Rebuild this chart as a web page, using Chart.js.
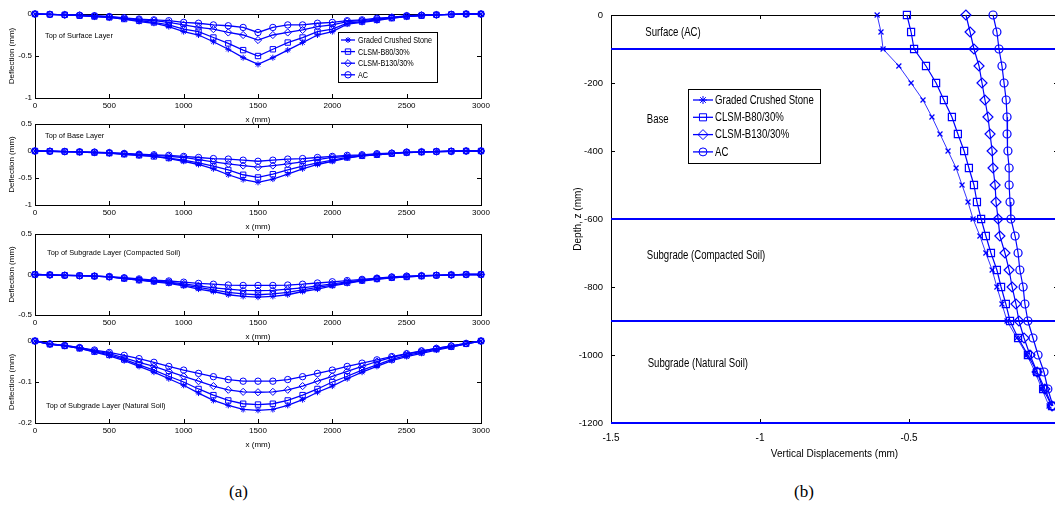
<!DOCTYPE html>
<html>
<head>
<meta charset="utf-8">
<script src="https://cdn.jsdelivr.net/npm/chart.js@4.4.1/dist/chart.umd.min.js"></script>
<style>
  html, body { margin: 0; padding: 0; background: #fff; overflow: hidden; width: 1055px; height: 509px; }
  canvas { position: absolute; }
  .cap { position: absolute; font-family: "Liberation Serif", "Times New Roman", serif; font-size: 17px; color: #000; }
</style>
</head>
<body>
<canvas id="surface" width="495" height="128" style="left:0;top:0"></canvas>
<canvas id="base" width="495" height="125" style="left:0;top:110px"></canvas>
<canvas id="compacted" width="495" height="125" style="left:0;top:220px"></canvas>
<canvas id="natural" width="495" height="126" style="left:0;top:327px"></canvas>
<canvas id="profile" width="520" height="470" style="left:555px;top:0"></canvas>
<div class="cap" style="left:229px;top:482px">(a)</div>
<div class="cap" style="left:794px;top:482px">(b)</div>
<script>
// ---- data ----
const seriesNames = ['Graded Crushed Stone', 'CLSM-B80/30%', 'CLSM-B130/30%', 'AC'];

// (a) deflection along x, every 100 mm
const xPositions = [0, 100, 200, 300, 400, 500, 600, 700, 800, 900, 1000, 1100, 1200, 1300, 1400, 1500,
  1600, 1700, 1800, 1900, 2000, 2100, 2200, 2300, 2400, 2500, 2600, 2700, 2800, 2900, 3000];

const surfaceGCS  = [0, -0.005, -0.01, -0.02, -0.03, -0.04, -0.06, -0.09, -0.11, -0.15, -0.21, -0.25, -0.33, -0.42, -0.52, -0.60, -0.52, -0.43, -0.34, -0.25, -0.21, -0.12, -0.10, -0.08, -0.05, -0.03, -0.02, -0.01, -0.005, 0, 0];
const surfaceB80  = [0, -0.005, -0.01, -0.02, -0.03, -0.04, -0.06, -0.08, -0.10, -0.13, -0.18, -0.21, -0.28, -0.35, -0.43, -0.50, -0.42, -0.34, -0.28, -0.21, -0.18, -0.11, -0.09, -0.07, -0.05, -0.03, -0.02, -0.01, -0.005, 0, 0];
const surfaceB130 = [0, -0.005, -0.01, -0.015, -0.025, -0.035, -0.05, -0.07, -0.08, -0.10, -0.13, -0.16, -0.18, -0.22, -0.25, -0.31, -0.25, -0.22, -0.19, -0.15, -0.13, -0.09, -0.08, -0.06, -0.04, -0.025, -0.015, -0.01, -0.005, 0, 0];
const surfaceAC   = [0, -0.005, -0.01, -0.015, -0.02, -0.03, -0.045, -0.06, -0.07, -0.08, -0.10, -0.11, -0.13, -0.14, -0.16, -0.22, -0.16, -0.13, -0.13, -0.11, -0.10, -0.08, -0.07, -0.05, -0.04, -0.02, -0.015, -0.01, -0.005, 0, 0];

const baseGCS  = [0, -0.005, -0.01, -0.02, -0.03, -0.04, -0.06, -0.08, -0.10, -0.14, -0.19, -0.25, -0.33, -0.44, -0.53, -0.58, -0.52, -0.43, -0.33, -0.25, -0.19, -0.13, -0.09, -0.07, -0.05, -0.03, -0.02, -0.01, -0.005, 0, 0];
const baseB80  = [0, -0.005, -0.01, -0.02, -0.03, -0.04, -0.06, -0.08, -0.10, -0.13, -0.17, -0.22, -0.28, -0.35, -0.44, -0.49, -0.43, -0.35, -0.28, -0.22, -0.17, -0.12, -0.09, -0.07, -0.05, -0.03, -0.02, -0.01, -0.005, 0, 0];
const baseB130 = [0, -0.005, -0.01, -0.015, -0.025, -0.035, -0.05, -0.07, -0.08, -0.10, -0.12, -0.16, -0.20, -0.24, -0.27, -0.30, -0.27, -0.24, -0.20, -0.16, -0.12, -0.10, -0.08, -0.06, -0.04, -0.025, -0.015, -0.01, -0.005, 0, 0];
const baseAC   = [0, -0.005, -0.01, -0.015, -0.02, -0.03, -0.045, -0.06, -0.07, -0.08, -0.10, -0.12, -0.14, -0.15, -0.17, -0.19, -0.17, -0.15, -0.14, -0.12, -0.10, -0.08, -0.07, -0.05, -0.04, -0.02, -0.015, -0.01, -0.005, 0, 0];

const compactedGCS  = [0, -0.005, -0.01, -0.015, -0.02, -0.03, -0.05, -0.07, -0.09, -0.11, -0.14, -0.18, -0.21, -0.25, -0.27, -0.28, -0.27, -0.25, -0.21, -0.18, -0.14, -0.11, -0.08, -0.06, -0.04, -0.03, -0.02, -0.01, -0.005, 0, 0];
const compactedB80  = [0, -0.005, -0.01, -0.015, -0.02, -0.03, -0.05, -0.07, -0.085, -0.10, -0.13, -0.16, -0.19, -0.22, -0.24, -0.25, -0.24, -0.22, -0.19, -0.16, -0.13, -0.10, -0.075, -0.055, -0.04, -0.03, -0.02, -0.01, -0.005, 0, 0];
const compactedB130 = [0, -0.005, -0.01, -0.015, -0.02, -0.03, -0.045, -0.065, -0.08, -0.095, -0.115, -0.14, -0.165, -0.18, -0.195, -0.20, -0.195, -0.18, -0.165, -0.14, -0.115, -0.09, -0.07, -0.05, -0.035, -0.025, -0.015, -0.01, -0.005, 0, 0];
const compactedAC   = [0, -0.005, -0.01, -0.015, -0.02, -0.025, -0.04, -0.055, -0.07, -0.08, -0.095, -0.11, -0.12, -0.13, -0.135, -0.135, -0.135, -0.13, -0.12, -0.105, -0.09, -0.075, -0.06, -0.045, -0.03, -0.02, -0.015, -0.01, -0.005, 0, 0];

const naturalGCS  = [0, -0.008, -0.012, -0.018, -0.027, -0.036, -0.048, -0.062, -0.076, -0.092, -0.108, -0.127, -0.145, -0.157, -0.167, -0.169, -0.167, -0.157, -0.143, -0.125, -0.11, -0.092, -0.076, -0.062, -0.048, -0.038, -0.03, -0.022, -0.015, -0.007, 0];
const naturalB80  = [0, -0.008, -0.012, -0.018, -0.026, -0.034, -0.045, -0.058, -0.071, -0.086, -0.10, -0.117, -0.132, -0.145, -0.153, -0.155, -0.153, -0.145, -0.132, -0.117, -0.10, -0.086, -0.071, -0.058, -0.045, -0.035, -0.028, -0.02, -0.014, -0.007, 0];
const naturalB130 = [0, -0.007, -0.011, -0.016, -0.024, -0.031, -0.041, -0.052, -0.062, -0.074, -0.086, -0.098, -0.11, -0.119, -0.124, -0.125, -0.124, -0.119, -0.11, -0.098, -0.086, -0.074, -0.062, -0.05, -0.04, -0.032, -0.025, -0.018, -0.012, -0.006, 0];
const naturalAC   = [0, -0.007, -0.011, -0.016, -0.022, -0.028, -0.035, -0.043, -0.052, -0.062, -0.071, -0.079, -0.087, -0.094, -0.098, -0.098, -0.098, -0.094, -0.087, -0.079, -0.071, -0.062, -0.054, -0.046, -0.038, -0.031, -0.024, -0.018, -0.012, -0.006, 0];

// (b) vertical displacement against depth
const depths = [0, -50, -100, -150, -200, -250, -300, -350, -400, -450, -500, -550,
  -600, -650, -700, -750, -800, -850, -900, -950, -1000, -1050, -1100, -1150];
const profileGCS  = [-0.607, -0.594, -0.587, -0.534, -0.493, -0.453, -0.423, -0.396, -0.369, -0.342, -0.322, -0.302, -0.285, -0.262, -0.242, -0.221, -0.205, -0.188, -0.171, -0.138, -0.104, -0.077, -0.054, -0.030];
const profileB80  = [-0.507, -0.493, -0.483, -0.443, -0.409, -0.383, -0.356, -0.336, -0.315, -0.299, -0.282, -0.272, -0.258, -0.242, -0.225, -0.205, -0.191, -0.175, -0.161, -0.134, -0.101, -0.070, -0.050, -0.020];
const profileB130 = [-0.309, -0.295, -0.282, -0.265, -0.255, -0.245, -0.235, -0.228, -0.221, -0.218, -0.211, -0.208, -0.201, -0.195, -0.178, -0.164, -0.154, -0.141, -0.131, -0.114, -0.094, -0.070, -0.044, -0.020];
const profileAC   = [-0.218, -0.205, -0.198, -0.188, -0.181, -0.174, -0.171, -0.171, -0.168, -0.164, -0.164, -0.161, -0.158, -0.144, -0.134, -0.128, -0.117, -0.111, -0.101, -0.084, -0.067, -0.047, -0.034, -0.017];
const layerDepths = [-100, -600, -900, -1200];

// ---- styling ----
const BLUE = '#0000ff';
const SANS = '"Liberation Sans", Arial, sans-serif';
const stylesA = ['star', 'rect', 'rectRot', 'circle'];
const radiiA = [3, 3.8, 3.6, 3.2];
const stylesB = ['crossRot', 'rect', 'rectRot', 'circle'];
const radiiB = [3.5, 5, 5, 4];
const widthsB = [0.8, 1.2, 1.2, 1.2];

// plain matlab-like tick text: 1500, -0.5, -1
const plainTick = v => String(Math.round(v * 1000) / 1000);

// narrow text (figure font is condensed)
function narrowText(ctx, text, x, y, sx) {
  ctx.save();
  ctx.translate(x, y);
  ctx.scale(sx, 1);
  ctx.fillText(text, 0, 0);
  ctx.restore();
}

// box with inward ticks, like matlab axes
const framePlugin = {
  id: 'frame',
  beforeDatasetsDraw(chart) {
    const { ctx, chartArea: a, scales: { x, y } } = chart;
    const t = 4;
    ctx.save();
    ctx.strokeStyle = '#000';
    ctx.lineWidth = 1;
    ctx.strokeRect(Math.round(a.left) + 0.5, Math.round(a.top) + 0.5, Math.round(a.right - a.left), Math.round(a.bottom - a.top));
    ctx.beginPath();
    x.ticks.forEach(tk => {
      const px = Math.round(x.getPixelForValue(tk.value)) + 0.5;
      ctx.moveTo(px, a.bottom); ctx.lineTo(px, a.bottom - t);
      ctx.moveTo(px, a.top); ctx.lineTo(px, a.top + t);
    });
    y.ticks.forEach(tk => {
      const py = Math.round(y.getPixelForValue(tk.value)) + 0.5;
      ctx.moveTo(a.left, py); ctx.lineTo(a.left + t, py);
      ctx.moveTo(a.right, py); ctx.lineTo(a.right - t, py);
    });
    ctx.stroke();
    ctx.restore();
  }
};

// horizontal layer boundaries in (b)
const layerPlugin = {
  id: 'layers',
  beforeDatasetsDraw(chart, args, opts) {
    if (!opts.depths) return;
    const { ctx, chartArea: a, scales: { y } } = chart;
    ctx.save();
    ctx.strokeStyle = BLUE;
    ctx.lineWidth = 2;
    ctx.beginPath();
    opts.depths.forEach(d => {
      const py = y.getPixelForValue(d);
      ctx.moveTo(a.left, py); ctx.lineTo(a.right, py);
    });
    ctx.stroke();
    ctx.restore();
  }
};

// text notes placed in data coordinates
const notesPlugin = {
  id: 'notes',
  afterDatasetsDraw(chart, args, opts) {
    if (!opts.items) return;
    const { ctx, scales: { x, y } } = chart;
    ctx.save();
    ctx.fillStyle = '#000';
    ctx.font = opts.size + 'px ' + SANS;
    ctx.textAlign = 'left';
    ctx.textBaseline = 'middle';
    opts.items.forEach(n => narrowText(ctx, n.text, x.getPixelForValue(n.x), y.getPixelForValue(n.y), opts.squeeze));
    ctx.restore();
  }
};

// matlab style legend: line + marker + text in a box
const legendPlugin = {
  id: 'matLegend',
  afterDraw(chart, args, o) {
    if (!o.box) return;
    const ctx = chart.ctx;
    const [bx, by, bw, bh] = o.box;
    ctx.save();
    ctx.fillStyle = '#fff';
    ctx.fillRect(bx, by, bw, bh);
    ctx.strokeStyle = '#000';
    ctx.lineWidth = 1;
    ctx.strokeRect(bx + 0.5, by + 0.5, bw, bh);
    ctx.font = o.size + 'px ' + SANS;
    ctx.textBaseline = 'middle';
    seriesNames.forEach((name, i) => {
      const yy = by + o.first + i * o.row;
      ctx.strokeStyle = BLUE;
      ctx.lineWidth = 1.3;
      ctx.beginPath();
      ctx.moveTo(bx + o.line[0], yy); ctx.lineTo(bx + o.line[1], yy);
      ctx.stroke();
      ctx.fillStyle = 'rgba(0,0,0,0)';
      ctx.lineWidth = 1;
      Chart.helpers.drawPoint(ctx, { pointStyle: o.styles[i], radius: o.radii[i], rotation: 0, borderWidth: 1 },
        bx + (o.line[0] + o.line[1]) / 2, yy);
      ctx.fillStyle = '#000';
      narrowText(ctx, name, bx + o.text, yy + 0.5, o.squeeze);
    });
    ctx.restore();
  }
};

Chart.register(framePlugin, layerPlugin, notesPlugin, legendPlugin);

function deflectionChart(id, series, yMin, yMax, yStep, note, legend) {
  return new Chart(document.getElementById(id), {
    type: 'scatter',
    data: {
      datasets: series.map((vals, i) => ({
        label: seriesNames[i],
        data: xPositions.map((x, j) => ({ x: x, y: vals[j] })),
        showLine: true,
        borderColor: BLUE,
        borderWidth: 1.3,
        pointStyle: stylesA[i],
        pointRadius: radiiA[i],
        pointBorderColor: BLUE,
        pointBackgroundColor: 'rgba(0,0,0,0)',
        pointBorderWidth: 1,
        clip: false
      }))
    },
    options: {
      responsive: false,
      animation: false,
      layout: { padding: { top: 14, right: 14, left: 0, bottom: 0 } },
      scales: {
        x: {
          type: 'linear', min: 0, max: 3000,
          grid: { display: false, drawTicks: false }, border: { display: false },
          ticks: { stepSize: 500, color: '#000', padding: 3, maxRotation: 0, font: { size: 8, family: SANS }, callback: plainTick },
          title: { display: true, text: 'x (mm)', color: '#000', font: { size: 8, family: SANS }, padding: { top: 0, bottom: 3 } },
          afterFit: s => { s.height = 30; }
        },
        y: {
          min: yMin, max: yMax,
          grid: { display: false, drawTicks: false }, border: { display: false },
          ticks: { stepSize: yStep, color: '#000', padding: 3, font: { size: 8, family: SANS }, callback: plainTick },
          title: { display: true, text: 'Deflection (mm)', color: '#000', font: { size: 8, family: SANS }, padding: { top: 7, bottom: 0 } },
          afterFit: s => { s.width = 35; }
        }
      },
      plugins: {
        legend: { display: false },
        tooltip: { enabled: false },
        notes: { size: 8, squeeze: 0.92, items: [note] },
        matLegend: legend || {}
      }
    }
  });
}

deflectionChart('surface', [surfaceGCS, surfaceB80, surfaceB130, surfaceAC], -1, 0, 0.5,
  { text: 'Top of Surface Layer', x: 67, y: -0.26 },
  { box: [338, 32, 99, 50], first: 8, row: 11.6, line: [3, 17], text: 20, size: 9, squeeze: 0.8, styles: stylesA, radii: radiiA });
deflectionChart('base', [baseGCS, baseB80, baseB130, baseAC], -1, 0.5, 0.5,
  { text: 'Top of Base Layer', x: 67, y: 0.28 });
deflectionChart('compacted', [compactedGCS, compactedB80, compactedB130, compactedAC], -0.5, 0.5, 0.5,
  { text: 'Top of Subgrade Layer (Compacted Soil)', x: 81, y: 0.27 });
deflectionChart('natural', [naturalGCS, naturalB80, naturalB130, naturalAC], -0.2, 0, 0.1,
  { text: 'Top of Subgrade Layer (Natural Soil)', x: 74, y: -0.157 });

const profiles = [profileGCS, profileB80, profileB130, profileAC];
new Chart(document.getElementById('profile'), {
  type: 'scatter',
  data: {
    datasets: profiles.map((vals, i) => ({
      label: seriesNames[i],
      data: depths.map((d, j) => ({ x: vals[j], y: d })),
      showLine: true,
      borderColor: BLUE,
      borderWidth: widthsB[i],
      pointStyle: stylesB[i],
      pointRadius: radiiB[i],
      pointBorderColor: BLUE,
      pointBackgroundColor: 'rgba(0,0,0,0)',
      pointBorderWidth: 1.2,
      clip: false
    }))
  },
  options: {
    responsive: false,
    animation: false,
    layout: { padding: { top: 15, right: 17, left: 0, bottom: 0 } },
    scales: {
      x: {
        type: 'linear', min: -1.5, max: 0,
        grid: { display: false, drawTicks: false }, border: { display: false },
        ticks: { stepSize: 0.5, color: '#000', padding: 9, maxRotation: 0, font: { size: 10, family: SANS }, callback: plainTick },
        title: { display: true, text: 'Vertical Displacements (mm)', color: '#000', font: { size: 10, family: SANS }, padding: { top: 0, bottom: 10 } },
        afterFit: s => { s.height = 47; }
      },
      y: {
        min: -1200, max: 0,
        grid: { display: false, drawTicks: false }, border: { display: false },
        ticks: { stepSize: 200, color: '#000', padding: 8, font: { size: 9.5, family: SANS }, callback: plainTick },
        title: { display: true, text: 'Depth, z (mm)', color: '#000', font: { size: 10, family: SANS }, padding: { top: 17, bottom: 0 } },
        afterFit: s => { s.width = 56; }
      }
    },
    plugins: {
      legend: { display: false },
      tooltip: { enabled: false },
      layers: { depths: layerDepths },
      notes: {
        size: 12, squeeze: 0.8,
        items: [
          { text: 'Surface (AC)', x: -1.385, y: -53 },
          { text: 'Base', x: -1.38, y: -309 },
          { text: 'Subgrade (Compacted Soil)', x: -1.38, y: -709 },
          { text: 'Subgrade (Natural Soil)', x: -1.377, y: -1026 }
        ]
      },
      matLegend: { box: [133, 89, 132, 74], first: 11, row: 17.3, line: [5, 25], text: 27, size: 12, squeeze: 0.8,
        styles: ['star', 'rect', 'rectRot', 'circle'], radii: [4, 5, 5, 4] }
    }
  }
});
</script>
</body>
</html>
